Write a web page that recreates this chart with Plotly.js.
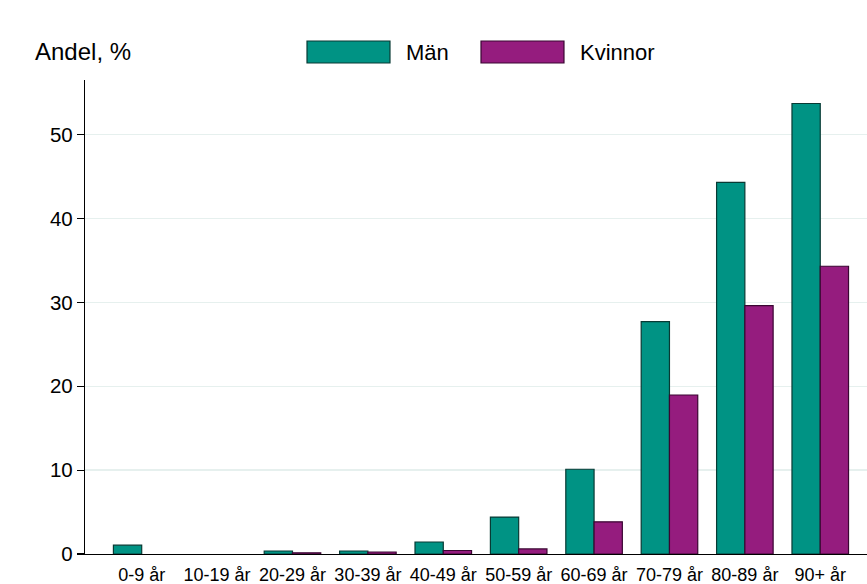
<!DOCTYPE html>
<html>
<head>
<meta charset="utf-8">
<script src="https://cdn.plot.ly/plotly-3.0.1.min.js"></script>
<style>html,body{margin:0;padding:0;background:#fff;}#chart{width:867px;height:584px;}</style>
</head>
<body>
<div id="chart"></div>
<script>
const categories = ["0-9 år","10-19 år","20-29 år","30-39 år","40-49 år","50-59 år","60-69 år","70-79 år","80-89 år","90+ år"];
const seriesNames = ["Män","Kvinnor"];
const man = [1.05, 0, 0.36, 0.36, 1.43, 4.4, 10.1, 27.7, 44.3, 53.7];
const kvinnor = [0, 0, 0.15, 0.24, 0.42, 0.6, 3.83, 18.95, 29.6, 34.3];
const yTicks = [0,10,20,30,40,50];
const colors = ["#009384","#951C7E"];
const lineColors = ["#083a34","#3a0632"];

const font = "Liberation Sans, Arial, sans-serif";
const traces = [man, kvinnor].map((vals, i) => ({
  type: "bar",
  name: seriesNames[i],
  x: categories.map((c, j) => j),
  y: vals,
  marker: {color: colors[i], line: {color: lineColors[i], width: vals.map(v => v > 0 ? 1.2 : 0)}},
  showlegend: false,
  hoverinfo: "x+y"
}));

// manual legend (large swatches)
const boxes = [[0.2839,0.3900,0.4079],[0.5064,0.6125,0.6304]];
const shapes = boxes.map((b,i)=>({type:"rect",xref:"paper",yref:"paper",x0:b[0],x1:b[1],y0:1.0359,y1:1.0823,
  fillcolor:colors[i],line:{color:lineColors[i],width:1.2}}));
const annotations = boxes.map((b,i)=>({xref:"paper",yref:"paper",x:b[2],y:1.059,xanchor:"left",yanchor:"middle",
  text:seriesNames[i],showarrow:false,font:{family:font,size:22,color:"#000"}}));

const layout = {
  width: 867, height: 584,
  margin: {l: 85, r: 0, t: 80, b: 30},
  paper_bgcolor: "#fff", plot_bgcolor: "#fff",
  barmode: "group", bargap: 0.25, bargroupgap: 0,
  title: {text: "Andel, %", xref: "container", yref: "container", x: 0.0404, xanchor: "left",
          y: 1 - 52/584, yanchor: "middle", font: {family: font, size: 24, color: "#000"}},
  xaxis: {range: [-0.752, 9.62], tickmode: "array", tickvals: categories.map((c,j)=>j), ticktext: categories,
          showgrid: false, zeroline: false, showline: true, linecolor: "#000", linewidth: 1.2,
          ticks: "", ticklabelstandoff: 4, tickfont: {family: font, size: 18, color: "#000"}, fixedrange: true},
  yaxis: {range: [0, 56.5], tickmode: "array", tickvals: yTicks, showgrid: true, gridcolor: "#e6f0ee", gridwidth: 1.3,
          zeroline: false, showline: true, linecolor: "#000", linewidth: 1.2, ticks: "outside", ticklen: 7,
          tickcolor: "#000", tickwidth: 1.2, tickfont: {family: font, size: 20.5, color: "#000"}, fixedrange: true},
  shapes: shapes,
  annotations: annotations,
  font: {family: font}
};
Plotly.newPlot("chart", traces, layout, {displayModeBar: false, staticPlot: true});
</script>
</body>
</html>
